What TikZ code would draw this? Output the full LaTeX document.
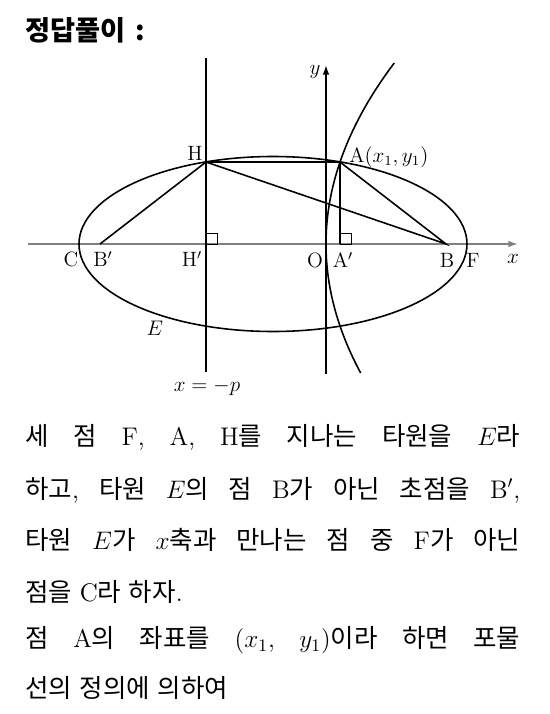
\documentclass[tikz,border=0pt]{standalone}
\usepackage{fontspec}
\usepackage{tikz}
\usetikzlibrary{arrows.meta}
\newfontfamily\kr{Noto Sans CJK KR}
\newcommand\gap{\hspace{0.3em plus 1fil}}
\tikzset{
  curve/.style={line width=0.9pt},
  axis/.style={line width=0.9pt, -{Latex[length=1.9mm,width=1.3mm]}},
  lbl/.style={inner sep=0pt, font=\fontsize{11.8}{14}\selectfont},
  bodyline/.style={anchor=west, inner sep=0pt, font=\fontsize{14.5}{17}\selectfont}
}

\begin{document}
\begin{tikzpicture}
      \useasboundingbox (-6.52,-9.4) rectangle (4.48,4.88);
      \coordinate (O) at (0,0);
      \coordinate (A) at (0.28,1.64);
      \coordinate (H) at (-2.4,1.64);
      \coordinate (Ap) at (0.28,0);
      \coordinate (Hp) at (-2.4,0);
      \coordinate (B) at (2.4,0);
      \coordinate (Bp) at (-4.52,0);
      \coordinate (xl) at (-5.96,0);
      \coordinate (xr) at (3.84,0);
      \coordinate (yb) at (0,-2.6);
      \coordinate (yt) at (0,3.58);
      \coordinate (dt) at (-2.4,3.72);
      \coordinate (db) at (-2.4,-2.56);
      \draw[axis, gray] (xl)--(xr);
      \draw[axis] (yb)--(yt);
      \draw[curve] (db)--(dt);
      \draw[curve] (-1.06,0) ellipse (3.88 and 1.75);
      \draw[curve, domain=-2.58:3.62, smooth, samples=60, variable=\t] plot ({\t*\t/9.6},{\t});
      \draw[curve] (Bp)--(H)--(A)--(B)--(H);
      \draw[curve] (A)--(Ap);
      \draw[thin] (Hp) rectangle ++(0.22,0.22);
      \draw[thin] (Ap) rectangle ++(0.22,0.22);
      \node[lbl] (labH) at (-2.62,1.82) {H};
      \node[lbl, anchor=west] (labA) at (0.46,1.74) {A$(x_1,y_1)$};
      \node[lbl] (labC) at (-5.10,-0.30) {C};
      \node[lbl] (labBp) at (-4.46,-0.30) {B$'$};
      \node[lbl] (labHp) at (-2.68,-0.30) {H$'$};
      \node[lbl] (labO) at (-0.22,-0.32) {O};
      \node[lbl] (labAp) at (0.34,-0.32) {A$'$};
      \node[lbl] (labB) at (2.42,-0.32) {B};
      \node[lbl] (labF) at (2.94,-0.32) {F};
      \node[lbl] (labx) at (3.74,-0.30) {$x$};
      \node[lbl] (laby) at (-0.22,3.44) {$y$};
      \node[lbl] (labE) at (-3.42,-1.68) {$E$};
      \node[lbl] (labd) at (-2.38,-2.86) {$x=-p$};
      \node[anchor=west, inner sep=0pt, font=\fontsize{15.5}{18}\selectfont\kr\bfseries] (title) at (-6.02,4.28) {정답풀이\hspace{0.35em}:};
      \node[bodyline] (line1) at (-6.02,-3.86) {\makebox[9.9cm][s]{{\kr 세}\gap{\kr 점}\gap F,\gap A,\gap H{\kr 를}\gap{\kr 지나는}\gap{\kr 타원을}\gap$E${\kr 라}}};
      \node[bodyline] (line2) at (-6.02,-4.92) {\makebox[9.9cm][s]{{\kr 하고},\gap{\kr 타원}\gap$E${\kr 의}\gap{\kr 점}\gap B{\kr 가}\gap{\kr 아닌}\gap{\kr 초점을}\gap B$'$,}};
      \node[bodyline] (line3) at (-6.02,-5.92) {\makebox[9.9cm][s]{{\kr 타원}\gap$E${\kr 가}\gap$x${\kr 축과}\gap{\kr 만나는}\gap{\kr 점}\gap{\kr 중}\gap F{\kr 가}\gap{\kr 아닌}}};
      \node[bodyline] (line4) at (-6.02,-6.96) {{\kr 점을}\gap C{\kr 라}\gap{\kr 하자}.};
      \node[bodyline] (line5) at (-6.02,-7.92) {\makebox[9.9cm][s]{{\kr 점}\gap A{\kr 의}\gap{\kr 좌표를}\gap$(x_1,$\gap$y_1)${\kr 이라}\gap{\kr 하면}\gap{\kr 포물}}};
      \node[bodyline] (line6) at (-6.02,-8.88) {{\kr 선의}\gap{\kr 정의에}\gap{\kr 의하여}};
\end{tikzpicture}
\end{document}
